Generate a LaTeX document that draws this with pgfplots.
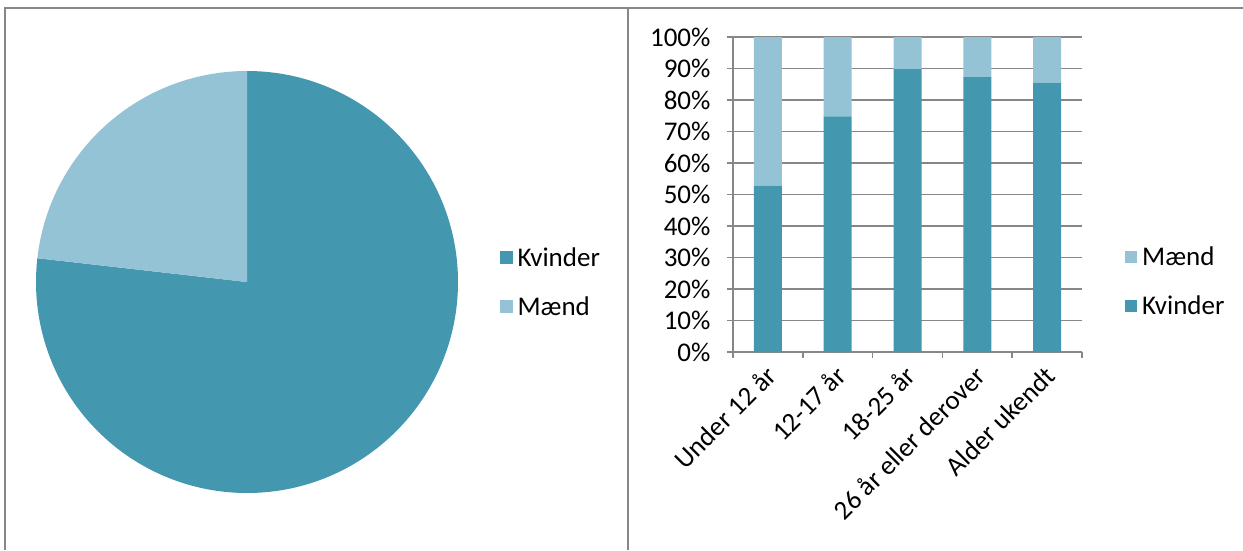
\documentclass[border=0pt]{standalone}
\usepackage{pgfplots}
\pgfplotsset{compat=1.18}
\usepackage{fontspec}
\setmainfont{Carlito}
\definecolor{kv}{HTML}{4398B0}
\definecolor{md}{HTML}{93C3D4}
\definecolor{gr}{HTML}{878787}
\newcommand{\lblfont}{\fontsize{27}{32}\selectfont}
% pie values (percent)
\pgfmathsetmacro{\pieKvinder}{76.8}
\pgfmathsetmacro{\pieMaend}{23.2}
\begin{document}
\begin{tikzpicture}
\useasboundingbox (0,0) rectangle (1243pt,550pt);
\draw[gr, line width=2pt] (5pt,0) -- (5pt,542pt) -- (1243pt,542pt);
\draw[gr, line width=2pt] (628pt,0) -- (628pt,542pt);

\begin{axis}[hide axis, scale only axis, clip=false,
  width=422pt, height=422pt,
  xmin=-1, xmax=1, ymin=-1, ymax=1,
  at={(247pt,268pt)}, anchor=center,
  legend style={at={(1,0.5)}, anchor=west, xshift=42pt, draw=none, fill=none,
    inner sep=0pt, row sep=25pt, font=\lblfont, legend cell align=left,
    nodes={inner xsep=5pt}},
  legend image code/.code={\fill[#1] (0pt,-6pt) rectangle (12pt,6pt);},
]
\addlegendimage{kv, fill=kv}
\addlegendentry{Kvinder}
\addlegendimage{md, fill=md}
\addlegendentry{Mænd}
\fill[kv] (axis cs:0,0) -- (axis cs:0,1) arc[start angle=90, delta angle={-3.6*\pieKvinder}, radius=211pt] -- cycle;
\fill[md] (axis cs:0,0) -- (axis cs:0,1) arc[start angle=90, delta angle={3.6*\pieMaend}, radius=211pt] -- cycle;
\end{axis}

\begin{axis}[scale only axis,
  width=349pt, height=315pt,
  at={(733pt,198pt)}, anchor=south west,
  ybar stacked, bar width=28pt,
  xmin=-0.5, xmax=4.5, ymin=0, ymax=100,
  xtick={-0.5,0.5,1.5,2.5,3.5,4.5},
  x tick label as interval,
  xticklabels={Under 12 år, 12-17 år, 18-25 år, 26 år eller derover, Alder ukendt},
  x tick label style={rotate=45, anchor=north east, inner sep=2pt, xshift=-5pt},
  ytick={0,10,...,100},
  yticklabels={0\%,10\%,20\%,30\%,40\%,50\%,60\%,70\%,80\%,90\%,100\%},
  y tick label style={xshift=-13pt},
  tick label style={font=\lblfont, black},
  ymajorgrids, grid style={gr, line width=1.5pt},
  axis x line*=bottom, axis y line*=left,
  axis line style={gr, line width=1.5pt},
  tick style={gr, line width=1.5pt},
  tick align=outside, major tick length=6pt,
  legend style={at={(1,0.225)}, anchor=west, xshift=43pt, draw=none, fill=none,
    inner sep=0pt, row sep=25pt, font=\lblfont, legend cell align=left,
    nodes={inner xsep=5pt}},
  legend image code/.code={\fill[#1] (0pt,-6pt) rectangle (12pt,6pt);},
  reverse legend,
]
\addplot[fill=kv, draw=none] coordinates {(0,52.8) (1,74.8) (2,89.8) (3,87.3) (4,85.5)};
\addlegendentry{Kvinder}
\addplot[fill=md, draw=none] coordinates {(0,47.2) (1,25.2) (2,10.2) (3,12.7) (4,14.5)};
\addlegendentry{Mænd}
\end{axis}
\end{tikzpicture}
\end{document}
